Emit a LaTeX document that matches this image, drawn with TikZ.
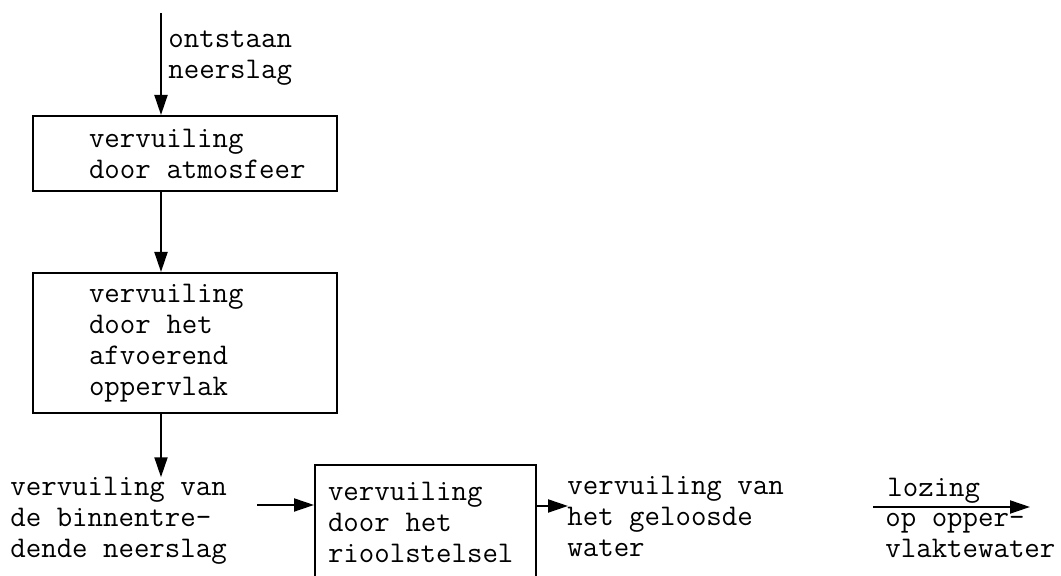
\documentclass[tikz,border=0pt]{standalone}
\usepackage{fontspec}
\usepackage{tikz}
\usetikzlibrary{arrows.meta, calc, positioning}
\newcommand{\tw}{\fontsize{15pt}{15.5pt}\selectfont\ttfamily}
% keep the typewriter word space inside boxes with a text width
\newcommand{\twspace}{\spaceskip=0.525em\xspaceskip=0.525em\relax}
\tikzset{
  % boxes: one stage of the pollution chain
  stage/.style={
    draw, line width=1pt, align=left, font=\tw,
    inner ysep=0pt
  },
  % wide boxes: text sits left of centre
  stage1/.style={stage, text width=126pt, inner xsep=13pt,
    execute at begin node={\twspace\leftskip=15pt}},
  stage3/.style={stage, text width=97.5pt, inner xsep=6.5pt,
    execute at begin node={\twspace}},
  %
  % free text (last line on the given baseline)
  freetxt/.style={anchor=base west, align=left, inner sep=0pt, font=\tw},
  %
  % flow arrows
  flow/.style={-{Triangle[length=10pt, width=6.5pt]}, line width=1pt},
}

\begin{document}
\begin{tikzpicture}[x=0.5pt, y=0.5pt]
  \useasboundingbox (0,0) rectangle (1061,576);

  %% ── Stages ───────────────────────────────────────────────────────────────
  \node[stage1, minimum height=37.5pt] (atmos) at (185, 422.5)
    {vervuiling\\door atmosfeer};
  \node[stage1, minimum height=70pt]   (opvl)  at (185, 233)
    {vervuiling\\door het\\afvoerend\\oppervlak};
  \node[stage3, minimum height=57.5pt] (riool) at (425.5, 53.5)
    {vervuiling\\door het\\rioolstelsel};

  %% ── Free text ────────────────────────────────────────────────────────────
  \node[freetxt] (ontst) at (168, 497) {ontstaan\\neerslag};
  \node[freetxt] (binnen) at (10, 18) {vervuiling van\\de binnentre-\\dende neerslag};
  \node[freetxt] (geloosd) at (567, 19) {vervuiling van\\het geloosde\\water};
  \node[freetxt] (lozing) at (887, 79) {lozing};
  \node[freetxt] (opper) at (885, 18) {op opper-\\vlaktewater};

  %% ── Loose arrow ends ─────────────────────────────────────────────────────
  \coordinate (src)  at (161, 563);
  \coordinate (in3)  at (257, 71);
  \coordinate (out3) at (568, 70);
  \coordinate (lz0)  at (873, 69);
  \coordinate (lz1)  at (1030, 69);

  %% ── Flow ─────────────────────────────────────────────────────────────────
  \draw[flow] (src) -- (src |- atmos.north);
  \draw[flow] (atmos.south -| src) -- (opvl.north -| src);
  \draw[flow] (opvl.south -| src) -- (src |- binnen.north);
  \draw[flow] (in3) -- (in3 -| riool.west);
  \draw[flow] (riool.east |- out3) -- (out3);
  \draw[flow] (lz0) -- (lz1);

\end{tikzpicture}
\end{document}
